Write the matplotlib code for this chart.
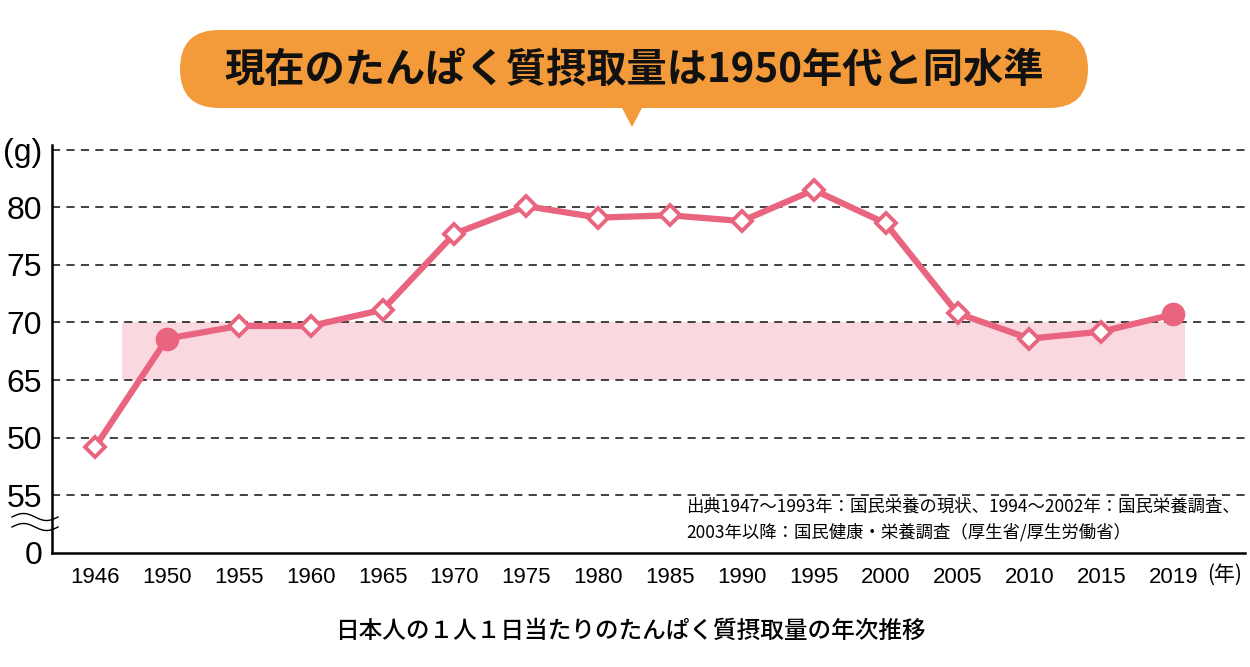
import numpy as np
import matplotlib.pyplot as plt
from matplotlib.patches import FancyBboxPatch, Polygon

# data
years = ["1946", "1950", "1955", "1960", "1965", "1970", "1975", "1980",
         "1985", "1990", "1995", "2000", "2005", "2010", "2015", "2019"]
protein = [59.2, 68.6, 69.7, 69.7, 71.1, 77.7, 80.1, 79.1,
           79.3, 78.8, 81.5, 78.6, 70.8, 68.6, 69.2, 70.7]
highlight_years = ["1950", "2019"]
band_low, band_high = 65, 70

ytick_values = [50, 55, 60, 65, 70, 75, 80, 85]
ytick_labels = ["0", "55", "50", "65", "70", "75", "80", "(g)"]

title = "現在のたんぱく質摂取量は1950年代と同水準"
caption = "日本人の１人１日当たりのたんぱく質摂取量の年次推移"
source = ("出典1947～1993年：国民栄養の現状、1994～2002年：国民栄養調査、\n"
          "2003年以降：国民健康・栄養調査（厚生省/厚生労働省）")

JP = ["Noto Sans CJK JP", "DejaVu Sans"]
LINE = "#e9657f"
BAND = "#f9d8e0"
ORANGE = "#f39b3a"


def main():
    fig = plt.figure(figsize=(12.5, 6.67), dpi=100)
    W, H = 1250, 667
    ax = fig.add_axes([52 / W, 1 - 553 / H, (1245 - 52) / W, (553 - 145) / H])

    x = np.arange(len(years))
    ax.set_xlim(-0.6, 16.0)
    ax.set_ylim(50, 85.4)

    # reference band
    ax.fill_between([0.37, 15.17], band_low, band_high, color=BAND, lw=0, zorder=1)

    # grid
    for v in ytick_values[1:]:
        ax.axhline(v, color="#333333", lw=1.3, ls=(0, (4.5, 3.5)), zorder=2)

    ax.plot(x, protein, color=LINE, lw=4.5, zorder=3, solid_capstyle="round")
    diamonds = [i for i, y in enumerate(years) if y not in highlight_years]
    circles = [i for i, y in enumerate(years) if y in highlight_years]
    ax.plot(x[diamonds], [protein[i] for i in diamonds], ls="none", marker="D",
            ms=10, mfc="white", mec=LINE, mew=2.8, zorder=4)
    ax.plot(x[circles], [protein[i] for i in circles], ls="none", marker="o",
            ms=16, mfc=LINE, mec=LINE, zorder=4)

    for s in ["top", "right"]:
        ax.spines[s].set_visible(False)
    ax.spines["left"].set_linewidth(1.8)
    ax.spines["bottom"].set_linewidth(1.8)

    ax.set_xticks(x)
    ax.set_xticklabels(years, family="Liberation Sans", fontsize=16)
    ax.set_yticks(ytick_values)
    ax.set_yticklabels(ytick_labels, family="Liberation Sans", fontsize=23)
    ax.tick_params(axis="both", length=0)
    ax.tick_params(axis="x", pad=10)
    ax.tick_params(axis="y", pad=7)

    # overlay in pixel units (origin top-left) for decorations
    ov = fig.add_axes([0, 0, 1, 1], zorder=5)
    ov.set_xlim(0, W)
    ov.set_ylim(H, 0)
    ov.axis("off")
    ov.patch.set_alpha(0)

    ov.text(1225, 575, "(年)", family=JP, fontsize=15, ha="center", va="center")

    # axis break mark
    t = np.linspace(0, 1, 60)
    bx = 12 + 46 * t
    wave = 3.5 * np.sin(2 * np.pi * t)
    for yb in (517, 527):
        ov.plot(bx, yb - wave, color="black", lw=1.0)

    # source note
    ov.text(686, 498, source, family=JP, fontsize=12.5,
            ha="left", va="top", linespacing=1.45)

    # title bubble
    box = FancyBboxPatch((180, 30), 1088 - 180, 78,
                         boxstyle="round,pad=0,rounding_size=39",
                         fc=ORANGE, ec="none")
    ov.add_patch(box)
    ov.add_patch(Polygon([[621, 106], [643, 106], [632, 127]], closed=True,
                         fc=ORANGE, ec="none"))
    ov.text(634, 70, title, family=JP, fontsize=29, fontweight="bold",
            color="#111111", ha="center", va="center")

    ov.text(630, 631, caption, family=JP, fontsize=17, fontweight="medium",
            ha="center", va="center")

    fig.savefig("out.png", dpi=100)


if __name__ == "__main__":
    main()
